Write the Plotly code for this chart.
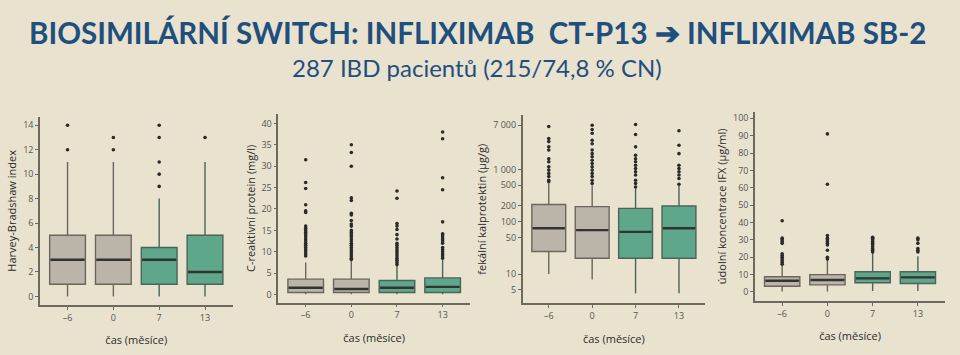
import plotly.graph_objects as go

# ---------------- data ----------------
categories = ["–6", "0", "7", "13"]
gray_cats = ["–6", "0"]
green_cats = ["7", "13"]

# Harvey-Bradshaw index
hbi_q1 = [1, 1, 1, 1]
hbi_med = [3, 3, 3, 2]
hbi_q3 = [5, 5, 4, 5]
hbi_lo = [0, 0, 0, 0]
hbi_hi = [11, 11, 8, 11]
hbi_out = [[12, 14], [12, 13], [9, 10, 11, 13, 14], [13]]

# C-reactive protein (mg/l)
crp_q1 = [0.5, 0.5, 0.5, 0.5]
crp_med = [1.6, 1.3, 1.6, 1.8]
crp_q3 = [3.6, 3.6, 3.3, 3.9]
crp_lo = [0.1, 0.1, 0.1, 0.1]
crp_hi = [7.5, 8.0, 6.8, 8.2]
crp_out = [
    [31.5, 26.2, 24.8, 21.0, 19.6, 19.2, 16.0, 15.5, 15.0, 14.5, 14.0, 13.5, 13.0,
     12.5, 12.0, 11.5, 11.0, 10.5, 10.0, 9.5, 9.0],
    [35.0, 33.2, 30.0, 22.6, 22.0, 19.0, 18.6, 17.3, 16.5, 16.0, 15.0, 14.5, 14.0,
     13.5, 13.0, 12.5, 12.0, 11.5, 11.0, 10.5, 10.0, 9.5, 9.0, 8.5, 8.2],
    [24.2, 22.5, 16.6, 16.0, 15.2, 14.0, 13.0, 12.0, 11.5, 11.0, 10.5, 10.0, 9.5,
     9.0, 8.5, 8.0, 7.5, 7.0],
    [38.0, 36.4, 27.3, 24.5, 17.0, 14.2, 14.0, 13.5, 13.0, 12.5, 12.0, 11.0, 10.5,
     10.0, 9.5, 9.0, 8.5],
]

# faecal calprotectin (ug/g), log axis
fc_q1 = [27, 20, 20, 20]
fc_med = [75, 69, 64, 75]
fc_q3 = [214, 194, 180, 200]
fc_lo = [10, 7.9, 4.3, 4.3]
fc_hi = [540, 500, 430, 500]
fc_out = [
    [6600, 3900, 3400, 2700, 2350, 1600, 1400, 1120, 970, 840, 730, 620, 580],
    [7000, 5800, 4900, 3600, 3100, 2350, 2000, 1750, 1500, 1300, 1120, 970, 840,
     730, 620, 540],
    [7200, 4650, 2700, 1870, 1600, 1400, 1200, 1040, 900, 780, 620, 540, 460],
    [5500, 2900, 2000, 1200, 1040, 900, 780, 670, 520],
]
fc_tickvals = [5, 10, 50, 100, 200, 500, 1000, 7000]
fc_ticktext = ["5", "10", "50", "100", "200", "500", "1 000", "7 000"]

# trough IFX concentration (ug/ml)
ifx_q1 = [3.3, 4.1, 5.3, 4.9]
ifx_med = [6.5, 6.9, 7.8, 8.4]
ifx_q3 = [8.8, 10.0, 11.6, 11.6]
ifx_lo = [0.2, 0.3, 0.5, 0.5]
ifx_hi = [15.7, 18.6, 22.5, 20.6]
ifx_out = [
    [41, 31, 30, 29, 28, 22, 21, 20, 19, 18, 17, 16],
    [91, 62, 32.5, 31, 30, 29, 28, 27, 24, 20, 19],
    [31.5, 31, 30, 29, 28, 27, 26, 25, 24, 23],
    [31, 30, 28, 25, 24, 23],
]

title_text = "<b>BIOSIMILÁRNÍ SWITCH: INFLIXIMAB  CT-P13 ➔ INFLIXIMAB SB-2</b>"
subtitle_text = "287 IBD pacientů (215/74,8 % CN)"
x_title = "čas (měsíce)"
y_titles = ["Harvey-Bradshaw index", "C-reaktivní protein (mg/l)",
            "fekální kalprotektin (µg/g)", "údolní koncentrace IFX (µg/ml)"]

# ---------------- style ----------------
BG = "#e9e2cf"
GRAY_FILL = "#bbb5a9"
GREEN_FILL = "#5ea78b"
GRAY_LINE = "#6b665d"
GREEN_LINE = "#4a6457"
MED_COLOR = "#333330"
AXIS_COLOR = "#6e695f"
TICK_FONT = dict(family="Open Sans", size=9, color="#555550")
TITLE_FONT = dict(family="Open Sans", size=11, color="#2c2c2a")
BOX_W = 0.78

panels = [
    dict(q1=hbi_q1, med=hbi_med, q3=hbi_q3, lo=hbi_lo, hi=hbi_hi, out=hbi_out,
         xd=[0.0417, 0.2422], yd=[0.1408, 0.6713], yr=[-0.7, 14.7], dtick=2, log=False),
    dict(q1=crp_q1, med=crp_med, q3=crp_q3, lo=crp_lo, hi=crp_hi, out=crp_out,
         xd=[0.2899, 0.4896], yd=[0.1473, 0.6789], yr=[-1.9, 42.2], dtick=5, log=False),
    dict(q1=fc_q1, med=fc_med, q3=fc_q3, lo=fc_lo, hi=fc_hi, out=fc_out,
         xd=[0.5445, 0.7344], yd=[0.1456, 0.6760], yr=[0.44, 4.04], dtick=None, log=True),
    dict(q1=ifx_q1, med=ifx_med, q3=ifx_q3, lo=ifx_lo, hi=ifx_hi, out=ifx_out,
         xd=[0.7865, 0.9844], yd=[0.1521, 0.6854], yr=[-5.2, 103.8], dtick=10, log=False),
]

fig = go.Figure()
shapes = []
layout_axes = {}

for i, p in enumerate(panels):
    n = "" if i == 0 else str(i + 1)
    xa, ya = "x" + n, "y" + n
    for cats, fill, lc in [(gray_cats, GRAY_FILL, GRAY_LINE), (green_cats, GREEN_FILL, GREEN_LINE)]:
        idx = [categories.index(c) for c in cats]
        fig.add_trace(go.Box(
            x=cats,
            q1=[p["q1"][k] for k in idx],
            median=[p["med"][k] for k in idx],
            q3=[p["q3"][k] for k in idx],
            lowerfence=[p["lo"][k] for k in idx],
            upperfence=[p["hi"][k] for k in idx],
            width=BOX_W,
            fillcolor=fill, line=dict(color=lc, width=1.4),
            whiskerwidth=0, boxpoints=False, showlegend=False, hoverinfo="skip",
            xaxis=xa, yaxis=ya,
        ))
    # outliers
    ox, oy = [], []
    for k, c in enumerate(categories):
        ox += [c] * len(p["out"][k])
        oy += p["out"][k]
    fig.add_trace(go.Scatter(x=ox, y=oy, mode="markers",
                             marker=dict(size=3.6, color="#2a2a28"),
                             showlegend=False, hoverinfo="skip", xaxis=xa, yaxis=ya))
    # medians (thicker dark line)
    for k in range(len(categories)):
        shapes.append(dict(type="line", xref=xa, yref=ya,
                           x0=k - BOX_W / 2 + 0.02, x1=k + BOX_W / 2 - 0.02,
                           y0=p["med"][k], y1=p["med"][k],
                           line=dict(color=MED_COLOR, width=2.4), layer="above"))
    xkey = "xaxis" + n
    ykey = "yaxis" + n
    layout_axes[xkey] = dict(
        domain=p["xd"], anchor=ya, type="category", categoryorder="array",
        categoryarray=categories, range=[-0.6, 3.6],
        showline=True, linecolor=AXIS_COLOR, linewidth=1.5,
        ticks="outside", ticklen=3, tickcolor=AXIS_COLOR, tickfont=TICK_FONT,
        showgrid=False, zeroline=False,
        title=dict(text=x_title, font=TITLE_FONT, standoff=14),
    )
    yax = dict(
        domain=p["yd"], anchor=xa, range=p["yr"],
        showline=True, linecolor=AXIS_COLOR, linewidth=1.5,
        ticks="outside", ticklen=3, tickcolor=AXIS_COLOR, tickfont=TICK_FONT,
        showgrid=False, zeroline=False,
        title=dict(text=y_titles[i], font=TITLE_FONT, standoff=4),
    )
    if p["log"]:
        yax.update(type="log", tickvals=fc_tickvals, ticktext=fc_ticktext)
    else:
        yax.update(dtick=p["dtick"], tick0=0)
    layout_axes[ykey] = yax

fig.update_layout(
    width=960, height=355,
    margin=dict(l=0, r=0, t=0, b=0),
    paper_bgcolor=BG, plot_bgcolor=BG,
    boxmode="overlay",
    shapes=shapes,
    annotations=[
        dict(text=title_text, x=0.497, y=1 - 33 / 355, xref="paper", yref="paper",
             showarrow=False, xanchor="center", yanchor="middle",
             font=dict(family="Lato", size=29.5, color="#1f4f7d")),
        dict(text=subtitle_text, x=0.497, y=1 - 68 / 355, xref="paper", yref="paper",
             showarrow=False, xanchor="center", yanchor="middle",
             font=dict(family="Lato", size=24, color="#1f4f7d")),
    ],
    **layout_axes,
)

fig.write_html("out.html", config={"displayModeBar": False},
               post_script="document.body.style.margin='0';document.body.style.background='%s';" % BG)
